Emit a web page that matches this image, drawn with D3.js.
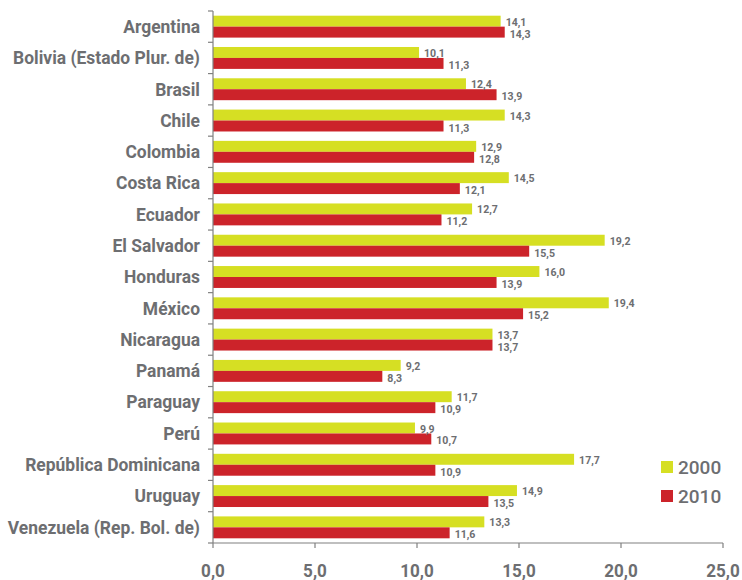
<!DOCTYPE html>
<html><head><meta charset="utf-8">
<script src="https://cdn.jsdelivr.net/npm/d3@7"></script>
<style>
body{margin:0;background:#fff;}
text{font-family:"Roboto","Liberation Sans",sans-serif;font-weight:bold;fill:#6d6e71;}
</style></head>
<body><svg id="c" width="742" height="580"></svg>
<script>
const categories = ["Argentina","Bolivia (Estado Plur. de)","Brasil","Chile","Colombia","Costa Rica","Ecuador","El Salvador","Honduras","México","Nicaragua","Panamá","Paraguay","Perú","República Dominicana","Uruguay","Venezuela (Rep. Bol. de)"];
const values2000 = [14.1,10.1,12.4,14.3,12.9,14.5,12.7,19.2,16.0,19.4,13.7,9.2,11.7,9.9,17.7,14.9,13.3];
const values2010 = [14.3,11.3,13.9,11.3,12.8,12.1,11.2,15.5,13.9,15.2,13.7,8.3,10.9,10.7,10.9,13.5,11.6];
const seriesNames = ["2000","2010"];
const xTicks = [0,5,10,15,20,25];

const colors = ["#d6df23","#cc232a"];
const svg = d3.select("#c");
const x0 = 213, x1 = 723, yTop = 11, yBot = 543;
const x = d3.scaleLinear().domain([0,25]).range([x0,x1]);
const y = d3.scaleBand().domain(categories).range([yTop,yBot]).paddingInner(0.3).paddingOuter(0.15);
const sub = d3.scaleBand().domain(seriesNames).range([0,y.bandwidth()]);
const fmt = v => d3.format(".1f")(v).replace(".",",");

function ctext(parent, tx, ty, sx, str){
  const gg = parent.append("g").attr("transform",`translate(${tx},${ty}) scale(${sx},1)`);
  return gg.append("text").attr("x",0).attr("y",0).text(str);
}

const data = categories.map((c,i)=>({c, vals:[values2000[i],values2010[i]]}));

const g = svg.append("g");
data.forEach(d=>{
  d.vals.forEach((v,k)=>{
    const yy = y(d.c)+sub(seriesNames[k]);
    g.append("rect").attr("x",x(0)).attr("y",yy).attr("width",x(v)-x(0)).attr("height",sub.bandwidth()).attr("fill",colors[k]);
  });
});
data.forEach(d=>{
  d.vals.forEach((v,k)=>{
    const yy = y(d.c)+sub(seriesNames[k]);
    ctext(g, x(v)+5, yy+sub.bandwidth()/2+(k===0?0.5:1.5), 0.92, fmt(v)).attr("dy","0.35em").attr("font-size","11.5px");
  });
});
// category labels, condensed
const probe = svg.append("text").attr("font-size","18px").text(categories[1]);
const w = probe.node().getComputedTextLength();
probe.remove();
const sxCat = 187 / w;
data.forEach(d=>{
  ctext(svg, x0-13, y(d.c)+y.bandwidth()/2, sxCat, d.c).attr("dy","0.35em")
    .attr("text-anchor","end").attr("font-size","18px");
});

// left axis
const axCol = "#808080";
svg.append("line").attr("x1",x0).attr("x2",x0).attr("y1",yTop).attr("y2",yBot).attr("stroke",axCol).attr("stroke-width",1.2);
const step = y.step();
d3.range(categories.length+1).forEach(i=>{
  const yy = yTop + i*step;
  svg.append("line").attr("x1",x0-5).attr("x2",x0).attr("y1",yy).attr("y2",yy).attr("stroke",axCol).attr("stroke-width",1.2);
});
// bottom axis
svg.append("line").attr("x1",x0).attr("x2",x1).attr("y1",yBot).attr("y2",yBot).attr("stroke",axCol).attr("stroke-width",1.2);
xTicks.forEach(t=>{
  svg.append("line").attr("x1",x(t)).attr("x2",x(t)).attr("y1",yBot).attr("y2",yBot+5).attr("stroke",axCol).attr("stroke-width",1.2);
  ctext(svg, x(t), 577, 0.95, fmt(t)).attr("text-anchor","middle").attr("font-size","18px");
});

// legend
seriesNames.forEach((s,k)=>{
  const ly = 461 + k*29;
  svg.append("rect").attr("x",661).attr("y",ly).attr("width",12).attr("height",12).attr("fill",colors[k]);
  svg.append("text").attr("x",678).attr("y",ly+6).attr("dy","0.36em").attr("font-size","19px").style("font-weight","500").text(s);
});
</script></body></html>
